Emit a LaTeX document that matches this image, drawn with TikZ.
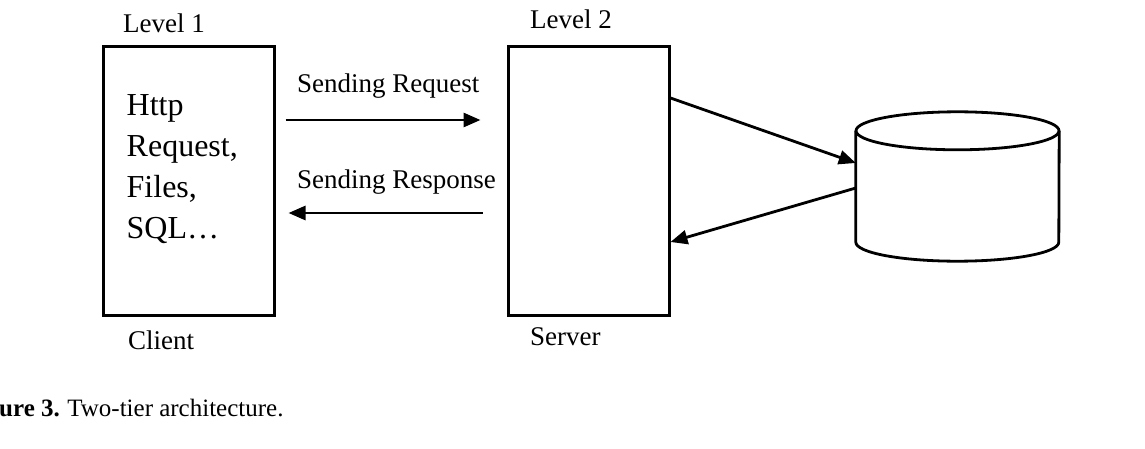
\documentclass[tikz,border=0pt]{standalone}
\usepackage{fontspec}
\setmainfont{Liberation Serif}
\usetikzlibrary{arrows.meta}

\tikzset{
  tier/.style={draw, line width=3pt, minimum width=#1, minimum height=268pt, inner sep=0pt},
  flow/.style={line width=2.8pt, -{Triangle[length=17pt,width=14pt]}},
  caption/.style={font=\fontsize{27}{32}\selectfont, anchor=base west, inner sep=0pt},
  boxtext/.style={font=\fontsize{32}{41}\selectfont, align=left, anchor=north west, inner sep=0pt},
  dbline/.style={line width=2.8pt}
}

\begin{document}
\begin{tikzpicture}[x=1pt,y=1pt]
  \useasboundingbox (0,0) rectangle (1145,448);

  % the two tiers
  \node[tier=171pt] (client) at (188.5,267) {};
  \node[tier=161pt] (server) at (588.5,267) {};
  \node[boxtext] (content) at ([xshift=25pt,yshift=-49pt]client.north west)
    {Http\\Request,\\Files,\\SQL\ldots};

  % tier labels
  \node[caption] (lvl1) at (123,415) {Level 1};
  \node[caption] (lvl2) at (530,419) {Level 2};
  \node[caption] (cl) at (128,99) {Client};
  \node[caption] (sv) at (530,103) {Server};

  % database cylinder
  \node[minimum width=203pt, minimum height=149pt, inner sep=0pt] (db) at (957.5,261.5) {};
  \draw[dbline] ([yshift=-19pt]db.north) ellipse [x radius=101.5pt, y radius=19pt];
  \draw[dbline] ([yshift=-19pt]db.north west) -- ([yshift=19pt]db.south west)
    arc [start angle=180, end angle=360, x radius=101.5pt, y radius=19pt]
    -- ([yshift=-19pt]db.north east);

  % request / response between the tiers
  \coordinate (reqS) at ([xshift=10pt,yshift=61pt]client.east);
  \coordinate (reqE) at ([xshift=-26pt,yshift=61pt]server.west);
  \coordinate (resS) at ([xshift=-24pt,yshift=-32pt]server.west);
  \coordinate (resE) at ([xshift=13pt,yshift=-32pt]client.east);
  \draw[flow] (reqS) -- (reqE);
  \draw[flow] (resS) -- (resE);
  \node[caption] (reqlbl) at (297,355) {Sending Request};
  \node[caption] (reslbl) at (297,260) {Sending Response};

  % server <-> database
  \coordinate (q1) at ([yshift=83pt]server.east);
  \coordinate (q2) at ([yshift=23.5pt]db.west);
  \coordinate (r1) at ([yshift=-1.5pt]db.west);
  \coordinate (r2) at ([yshift=-61pt]server.east);
  \draw[flow] (q1) -- (q2);
  \draw[flow] (r1) -- (r2);

  % figure caption
  \node[anchor=base west, inner sep=0pt, font=\fontsize{25}{30}\selectfont] (fig) at (-1,32)
    {\textbf{ure 3.}\hspace{0.3em}Two-tier architecture.};
\end{tikzpicture}
\end{document}
